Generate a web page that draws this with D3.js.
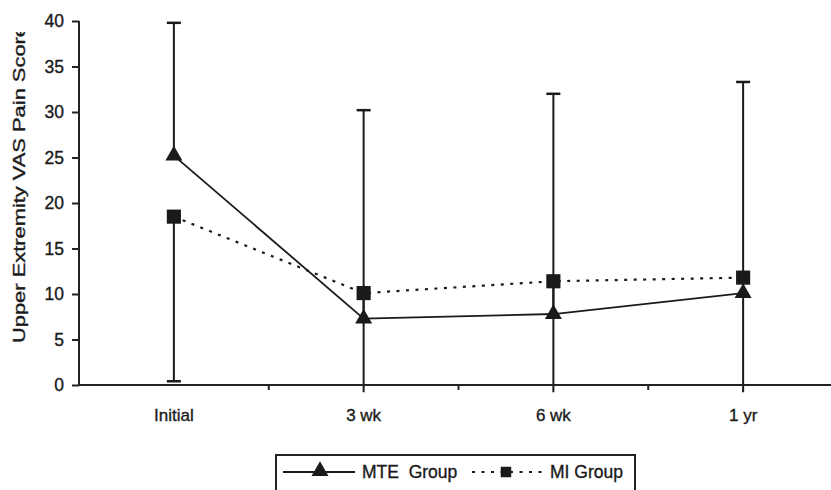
<!DOCTYPE html>
<html><head><meta charset="utf-8">
<script src="https://cdn.jsdelivr.net/npm/d3@7/dist/d3.min.js"></script>
<style>body{margin:0;background:#fff}svg{display:block}text{font-family:"Liberation Sans",Arial,sans-serif;fill:#1a1a1a;stroke:#1a1a1a;stroke-width:0.35px}</style>
</head><body><svg id="c" width="831" height="490"></svg>
<script>
const categories = ["Initial", "3 wk", "6 wk", "1 yr"];
const mteValues = [25.2, 7.3, 7.8, 10.1];
const miValues = [18.5, 10.1, 11.4, 11.8];
const mteUpper = [39.8, 30.2, 32.0, 33.3];
const miLower = [0.4, -2, -2, -2];
const yTicks = [0, 5, 10, 15, 20, 25, 30, 35, 40];
const seriesNames = ["MTE Group", "MI Group"];
const yTitle = "Upper Extremity VAS Pain Score";

const svg = d3.select("#c");
const ink = "#1a1a1a";
const x = d3.scaleBand().domain(categories).range([79, 838]).paddingInner(0).paddingOuter(0);
const cx = d => x(d) + x.bandwidth() / 2;
const y = d3.scaleLinear().domain([0, 40]).range([385, 21]);

// clip for plot (lower error bars run just below axis)
svg.append("clipPath").attr("id", "pc").append("rect")
  .attr("x", 0).attr("y", 0).attr("width", 831).attr("height", y(-0.8));
const plot = svg.append("g").attr("clip-path", "url(#pc)");

// error bars
function errBar(cat, from, to) {
  plot.append("line").attr("x1", cx(cat)).attr("x2", cx(cat))
    .attr("y1", y(from)).attr("y2", y(to)).attr("stroke", ink).attr("stroke-width", 2);
  plot.append("line").attr("x1", cx(cat) - 7).attr("x2", cx(cat) + 7)
    .attr("y1", y(to)).attr("y2", y(to)).attr("stroke", ink).attr("stroke-width", 2.5);
}
categories.forEach((c, i) => { errBar(c, mteValues[i], mteUpper[i]); errBar(c, miValues[i], miLower[i]); });

// axes
const yAxis = d3.axisLeft(y).tickValues(yTicks).tickSize(7).tickPadding(8);
const gy = svg.append("g").attr("transform", "translate(79,0)").call(yAxis);
gy.select(".domain").attr("stroke", "#222").attr("stroke-width", 2).attr("d", `M0,${y(40)}V${y(0)}`);
gy.selectAll(".tick line").attr("stroke", "#222").attr("stroke-width", 2);
gy.selectAll(".tick text").attr("font-size", 17.5).attr("font-family", "Liberation Sans, Arial").attr("fill", ink);

const gx = svg.append("g").attr("transform", `translate(0,${y(0)})`);
gx.append("line").attr("x1", 79).attr("x2", 838).attr("y1", 0).attr("y2", 0).attr("stroke", "#222").attr("stroke-width", 2);
categories.slice(1).forEach(c => {
  gx.append("line").attr("x1", x(c)).attr("x2", x(c)).attr("y1", 0).attr("y2", 5).attr("stroke", "#222").attr("stroke-width", 2);
});
categories.forEach(c => {
  gx.append("text").attr("x", cx(c)).attr("y", 36).attr("text-anchor", "middle")
    .attr("font-size", 17).text(c);
});

// lines
const line = d3.line().x((d, i) => cx(categories[i])).y(d => y(d));
svg.append("path").datum(mteValues).attr("d", line).attr("fill", "none").attr("stroke", ink).attr("stroke-width", 1.8);
svg.append("path").datum(miValues).attr("d", line).attr("fill", "none").attr("stroke", ink).attr("stroke-width", 2.2)
  .attr("stroke-dasharray", "3,6.5");

const tri = d3.symbol().type(d3.symbolTriangle).size(125);
const sq = d3.symbol().type(d3.symbolSquare).size(200);
mteValues.forEach((v, i) => svg.append("path").attr("d", tri()).attr("fill", ink)
  .attr("transform", `translate(${cx(categories[i])},${y(v)})`));
miValues.forEach((v, i) => svg.append("path").attr("d", sq()).attr("fill", ink)
  .attr("transform", `translate(${cx(categories[i])},${y(v)})`));

// y title (clipped at top as in original)
svg.append("clipPath").attr("id", "tc").append("rect").attr("x", 0).attr("y", 32).attr("width", 60).attr("height", 460);
svg.append("g").attr("clip-path", "url(#tc)").append("text")
  .attr("transform", "translate(25,343) rotate(-90)").attr("font-size", 17)
  .attr("textLength", 318).attr("lengthAdjust", "spacingAndGlyphs").text(yTitle);

// legend
const lg = svg.append("g");
lg.append("rect").attr("x", 276).attr("y", 455).attr("width", 359).attr("height", 50)
  .attr("fill", "#fff").attr("stroke", "#222").attr("stroke-width", 2);
lg.append("line").attr("x1", 283).attr("x2", 355).attr("y1", 472).attr("y2", 472).attr("stroke", ink).attr("stroke-width", 1.8);
lg.append("path").attr("d", tri()).attr("fill", ink).attr("transform", "translate(320,471)");
lg.append("text").attr("x", 362).attr("y", 478).attr("font-size", 17.5).attr("xml:space", "preserve").text("MTE  Group");
lg.append("line").attr("x1", 472).attr("x2", 542).attr("y1", 472).attr("y2", 472).attr("stroke", ink).attr("stroke-width", 2.2).attr("stroke-dasharray", "3,6.5");
lg.append("path").attr("d", d3.symbol().type(d3.symbolSquare).size(110)()).attr("fill", ink).attr("transform", "translate(506,472)");
lg.append("text").attr("x", 550).attr("y", 478).attr("font-size", 17.5).text(seriesNames[1]);
</script></body></html>
